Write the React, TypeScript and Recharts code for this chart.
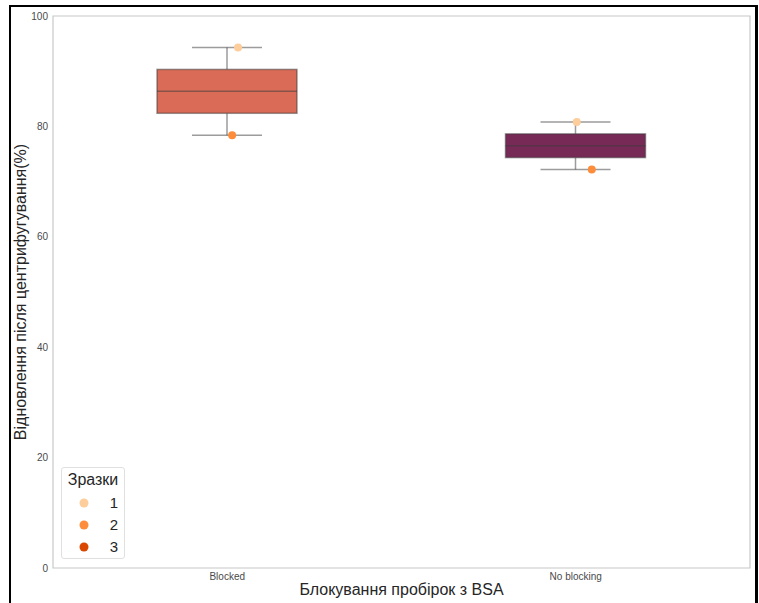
import React from "react";
import { ComposedChart, Bar, Scatter, XAxis, YAxis, ReferenceArea } from "recharts";

// groups on the x axis
const groups = ["Blocked", "No blocking"];

// recovery after centrifugation (%), one value per group
const sample1 = [94.3, 80.8];
const sample2 = [78.4, 72.2];

const sampleNames = ["1", "2", "3"];
const sampleColors = ["#fdcd9c", "#fd8c3b", "#d94701"];
const boxColors = ["#d96b57", "#772a56"];

// horizontal strip jitter, in category units
const jitter = [
  [0.031, 0.014],
  [0.003, 0.046],
];

const FONT = "Arial, 'Liberation Sans', sans-serif";

// linear-interpolated quantile, numpy style
function quantile(values: number[], p: number) {
  const s = [...values].sort((a, b) => a - b);
  const pos = (s.length - 1) * p;
  const lo = Math.floor(pos);
  const hi = Math.ceil(pos);
  return s[lo] + (s[hi] - s[lo]) * (pos - lo);
}

const boxData = groups.map((name, i) => {
  const vals = [sample1[i], sample2[i]];
  const q1 = quantile(vals, 0.25);
  const q3 = quantile(vals, 0.75);
  return {
    name,
    base: q1,
    iqr: q3 - q1,
    q1,
    q3,
    med: quantile(vals, 0.5),
    lo: Math.min(...vals),
    hi: Math.max(...vals),
    color: boxColors[i],
  };
});

const pointSets = [sample1, sample2].map((vals, s) =>
  vals.map((v, i) => ({ x: i + jitter[i][s], y: v }))
);

const LINE = "#3a3a3a";

const BoxShape = (props: any) => {
  const { x, y, width, height, payload } = props;
  const unit = height / payload.iqr;
  const cx = x + width / 2;
  const yMed = y + (payload.q3 - payload.med) * unit;
  const yHi = y - (payload.hi - payload.q3) * unit;
  const yLo = y + height + (payload.q1 - payload.lo) * unit;
  const cap = width / 4;
  const line = { stroke: LINE, strokeOpacity: 0.5, strokeWidth: 1.5 };
  return (
    <g>
      <line x1={cx} x2={cx} y1={yHi} y2={y} {...line} />
      <line x1={cx} x2={cx} y1={y + height} y2={yLo} {...line} />
      <line x1={cx - cap} x2={cx + cap} y1={yHi} y2={yHi} {...line} />
      <line x1={cx - cap} x2={cx + cap} y1={yLo} y2={yLo} {...line} />
      <rect x={x} y={y} width={width} height={height} fill={payload.color} {...line} />
      <line x1={x} x2={x + width} y1={yMed} y2={yMed} {...line} />
    </g>
  );
};

const Dot = (props: any) => <circle cx={props.cx} cy={props.cy} r={4} fill={props.fill} />;

export default function App() {
  return (
    <div
      style={{
        position: "absolute",
        left: 0,
        top: 0,
        width: 759,
        height: 603,
        overflow: "hidden",
        background: "#fff",
        fontFamily: FONT,
      }}
    >
      <div
        style={{
          position: "absolute",
          left: 9,
          top: 5,
          width: 744,
          height: 640,
          borderLeft: "2px solid #000",
          borderTop: "2px solid #000",
          borderRight: "3px solid #000",
        }}
      />
      <div style={{ position: "absolute", left: 0, top: 0 }}>
        <ComposedChart
          width={759}
          height={603}
          data={boxData}
          margin={{ top: 16, right: 9, bottom: 0, left: 0 }}
        >
          <XAxis
            xAxisId="cat"
            dataKey="name"
            type="category"
            height={35}
            axisLine={false}
            tickLine={false}
            tickSize={0}
            tickMargin={5}
            tick={{ fontSize: 10, fill: "#4a4a4a", fontFamily: FONT }}
            label={{
              value: "Блокування пробірок з BSA",
              position: "insideBottom",
              offset: 8,
              style: { fontSize: 16, fill: "#262626", fontFamily: FONT },
            }}
          />
          <XAxis xAxisId="num" type="number" dataKey="x" domain={[-0.5, 1.5]} hide />
          <YAxis
            type="number"
            domain={[0, 100]}
            ticks={[0, 20, 40, 60, 80, 100]}
            width={53}
            axisLine={false}
            tickLine={false}
            tickSize={0}
            tickMargin={5}
            tick={{ fontSize: 10, fill: "#4a4a4a", fontFamily: FONT }}
            label={{
              value: "Відновлення після центрифугування(%)",
              angle: -90,
              position: "insideLeft",
              offset: 20,
              style: { fontSize: 16, fill: "#262626", fontFamily: FONT, textAnchor: "middle" },
            }}
          />
          <ReferenceArea
            xAxisId="num"
            x1={-0.5}
            x2={1.5}
            y1={0}
            y2={100}
            fill="none"
            stroke="#c8c8c8"
            strokeWidth={1.2}
          />
          <Bar xAxisId="cat" dataKey="base" stackId="box" fill="none" barSize={140} isAnimationActive={false} />
          <Bar
            xAxisId="cat"
            dataKey="iqr"
            stackId="box"
            barSize={140}
            shape={BoxShape}
            isAnimationActive={false}
          />
          {pointSets.map((pts, s) => (
            <Scatter
              key={sampleNames[s]}
              xAxisId="num"
              data={pts}
              dataKey="y"
              fill={sampleColors[s]}
              shape={Dot}
              isAnimationActive={false}
            />
          ))}
        </ComposedChart>
      </div>
      <div
        style={{
          position: "absolute",
          left: 61,
          top: 467,
          width: 62,
          height: 90,
          border: "1px solid #e0e0e0",
          borderRadius: 3,
          background: "rgba(255,255,255,0.8)",
          color: "#262626",
        }}
      >
        <div style={{ position: "absolute", left: 0, right: 0, top: 3, textAlign: "center", fontSize: 16 }}>
          Зразки
        </div>
        {sampleNames.map((n, i) => (
          <div key={n} style={{ position: "absolute", left: 0, top: 26 + i * 22, width: 62, height: 20 }}>
            <svg width={62} height={20} style={{ position: "absolute", left: 0, top: 0 }}>
              <circle cx={22} cy={9} r={4.5} fill={sampleColors[i]} />
            </svg>
            <span style={{ position: "absolute", right: 6, top: 0, fontSize: 15, lineHeight: "18px" }}>{n}</span>
          </div>
        ))}
      </div>
    </div>
  );
}
